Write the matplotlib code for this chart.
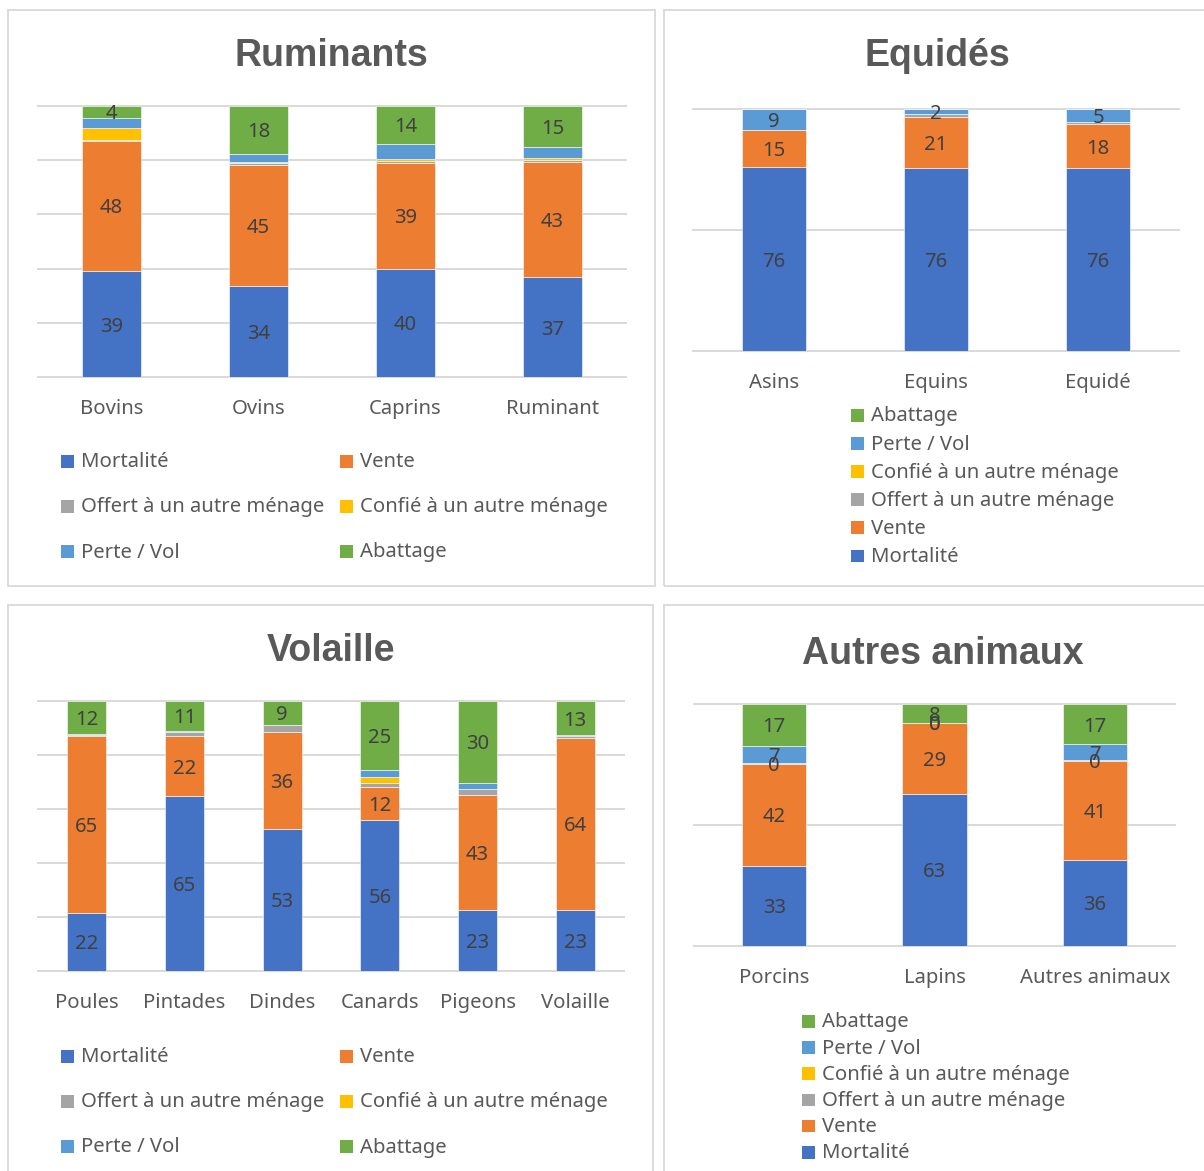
import numpy as np
import matplotlib
matplotlib.use("Agg")
import matplotlib.pyplot as plt
from matplotlib.patches import Rectangle

# ---------------- data ----------------
series_names = ["Mortalité", "Vente", "Offert à un autre ménage",
                "Confié à un autre ménage", "Perte / Vol", "Abattage"]
series_colors = ["#4472C4", "#ED7D31", "#A5A5A5", "#FFC000", "#5B9BD5", "#70AD47"]

rum_cats = ["Bovins", "Ovins", "Caprins", "Ruminant"]
rum_mort = [39.1, 33.6, 39.9, 36.8]
rum_vente = [48.0, 44.6, 39.2, 42.6]
rum_offert = [0.4, 0.7, 0.7, 0.6]
rum_confie = [4.3, 0.5, 0.5, 0.9]
rum_perte = [3.9, 3.0, 5.8, 4.1]
rum_abat = [4.3, 17.6, 13.9, 15.0]

equ_cats = ["Asins", "Equins", "Equidé"]
equ_mort = [76.0, 75.6, 75.7]
equ_vente = [15.3, 21.0, 18.0]
equ_offert = [0.0, 1.2, 0.9]
equ_confie = [0.0, 0.0, 0.0]
equ_perte = [8.7, 2.2, 5.4]
equ_abat = [0.0, 0.0, 0.0]

vol_cats = ["Poules", "Pintades", "Dindes", "Canards", "Pigeons", "Volaille"]
vol_mort = [21.6, 64.8, 52.6, 55.9, 22.6, 22.6]
vol_vente = [65.4, 22.2, 36.0, 12.2, 42.6, 63.8]
vol_offert = [0.3, 1.7, 2.6, 1.5, 2.3, 0.5]
vol_confie = [0.0, 0.0, 0.0, 2.2, 0.0, 0.1]
vol_perte = [0.6, 0.2, 0.0, 2.8, 2.2, 0.4]
vol_abat = [12.1, 11.1, 8.8, 25.4, 30.3, 12.6]

aut_cats = ["Porcins", "Lapins", "Autres animaux"]
aut_mort = [33.1, 62.9, 35.6]
aut_vente = [42.1, 29.2, 40.7]
aut_offert = [0.4, 0.2, 0.4]
aut_confie = [0.0, 0.0, 0.0]
aut_perte = [7.2, 0.0, 6.7]
aut_abat = [17.2, 7.7, 16.6]

# ---------------- style ----------------
W, H = 1204, 1171
FONT = "Noto Sans"
TXT = "#595959"
LAB = "#404040"
GRID = "#D9D9D9"
FS = 14.6

fig = plt.figure(figsize=(W / 100, H / 100), dpi=100)
fig.patch.set_facecolor("white")


def px_axes(x0, y0, x1, y1):
    return fig.add_axes([x0 / W, 1 - y1 / H, (x1 - x0) / W, (y1 - y0) / H])


def panel(x0, y0, x1, y1):
    fig.add_artist(Rectangle((x0 / W, 1 - y1 / H), (x1 - x0) / W, (y1 - y0) / H,
                             transform=fig.transFigure, fill=False,
                             edgecolor=GRID, linewidth=1.3, clip_on=False))


def chart(ax, cats, data, labelled, yticks):
    x = np.arange(len(cats))
    bottom = np.zeros(len(cats))
    for name, vals, color, lab in zip(series_names, data, series_colors, labelled):
        vals = np.asarray(vals, dtype=float)
        bars = ax.bar(x, vals, 0.4, bottom=bottom, color=color,
                      edgecolor="white", linewidth=0.4, zorder=3)
        if lab:
            anns = ax.bar_label(bars, labels=[f"{v:.0f}" for v in vals], label_type="center",
                                fontsize=FS, color=LAB, family=FONT, zorder=6)
            for a in anns:
                a.set_va("center_baseline")
        bottom += vals
    ax.set_xlim(-0.5, len(cats) - 0.5)
    ax.set_ylim(0, 100)
    ax.set_yticks(yticks)
    ax.grid(axis="y", color=GRID, linewidth=1.4)
    for gl in ax.get_ygridlines():
        gl.set_clip_on(False)
    ax.set_axisbelow(True)
    for s in ax.spines.values():
        s.set_visible(False)
    ax.set_xticks(x)
    ax.set_xticklabels(cats, fontsize=FS, color=TXT, family=FONT)
    ax.tick_params(axis="x", length=0, pad=16)
    ax.tick_params(axis="y", left=False, labelleft=False)
    ax.set_facecolor("none")


def legend_grid(rows_y, col_x):
    # 2 columns layout: (Mortalité, Vente), (Offert, Confié), (Perte, Abattage)
    order = [[0, 1], [2, 3], [4, 5]]
    for r, y in enumerate(rows_y):
        for c, xx in enumerate(col_x):
            i = order[r][c]
            fig.add_artist(Rectangle((xx / W, 1 - (y + 6.5) / H), 12.5 / W, 12.5 / H,
                                     transform=fig.transFigure, facecolor=series_colors[i],
                                     edgecolor="none"))
            fig.text((xx + 20) / W, 1 - (y + 1.5) / H, series_names[i], fontsize=FS, color=TXT,
                     family=FONT, ha="left", va="center")


def legend_col(y_top, step, xx):
    for k, i in enumerate(range(5, -1, -1)):
        y = y_top + k * step
        fig.add_artist(Rectangle((xx / W, 1 - (y + 6.5) / H), 12.5 / W, 12.5 / H,
                                 transform=fig.transFigure, facecolor=series_colors[i],
                                 edgecolor="none"))
        fig.text((xx + 20) / W, 1 - (y + 1.5) / H, series_names[i], fontsize=FS, color=TXT,
                 family=FONT, ha="left", va="center")


def title(x, y, s):
    fig.text(x / W, 1 - (y + 4) / H, s, fontsize=27, fontweight="bold", color=TXT,
             family="Liberation Sans", ha="center", va="center")


# panels
panel(8, 10, 655, 586)
panel(664, 10, 1260, 586)
panel(8, 605, 653, 1230)
panel(664, 605, 1260, 1230)

# Ruminants
ax1 = px_axes(38, 106, 626, 377)
chart(ax1, rum_cats, [rum_mort, rum_vente, rum_offert, rum_confie, rum_perte, rum_abat],
      [True, True, False, False, False, True], np.arange(0, 101, 20))
title(331, 52, "Ruminants")
legend_grid([461, 506, 551], [61, 340])

# Equidés
ax2 = px_axes(693, 109, 1179, 351)
chart(ax2, equ_cats, [equ_mort, equ_vente, equ_offert, equ_confie, equ_perte, equ_abat],
      [True, True, False, False, True, False], [0, 50, 100])
title(937, 52, "Equidés")
legend_col(415, 28.1, 851)

# Volaille
ax3 = px_axes(38, 701, 624, 971)
chart(ax3, vol_cats, [vol_mort, vol_vente, vol_offert, vol_confie, vol_perte, vol_abat],
      [True, True, False, False, False, True], np.arange(0, 101, 20))
title(331, 647, "Volaille")
legend_grid([1056, 1101, 1146], [61, 340])

# Autres animaux
ax4 = px_axes(694, 704, 1175, 946)
chart(ax4, aut_cats, [aut_mort, aut_vente, aut_offert, aut_confie, aut_perte, aut_abat],
      [True, True, True, False, True, True], [0, 50, 100])
title(943, 650, "Autres animaux")
legend_col(1021, 26.2, 802)

fig.savefig("out.png", dpi=100, facecolor="white")
